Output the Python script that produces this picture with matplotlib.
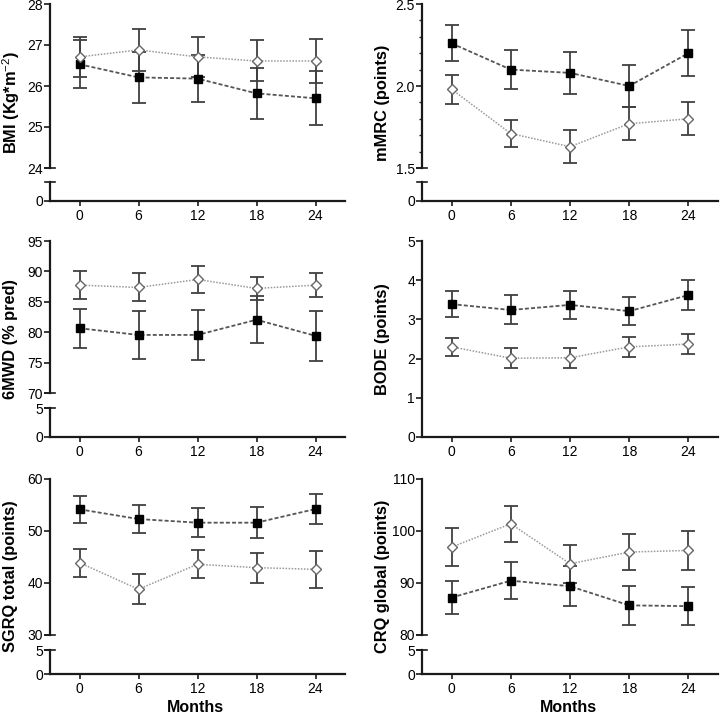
import numpy as np
import matplotlib
matplotlib.use("Agg")
import matplotlib.pyplot as plt
from matplotlib.lines import Line2D
from matplotlib.ticker import MultipleLocator, FormatStrFormatter

plt.rcParams['font.family'] = ['Liberation Sans', 'DejaVu Sans']
plt.rcParams['mathtext.fontset'] = 'custom'
plt.rcParams['mathtext.rm'] = 'Liberation Sans'
plt.rcParams['mathtext.bf'] = 'Liberation Sans:bold'

months = [0, 6, 12, 18, 24]

bmi_sq = [26.53, 26.21, 26.18, 25.82, 25.70]
bmi_sq_err = [0.59, 0.63, 0.57, 0.62, 0.66]
bmi_di = [26.71, 26.88, 26.71, 26.61, 26.61]
bmi_di_err = [0.49, 0.52, 0.49, 0.50, 0.54]

mmrc_sq = [2.26, 2.10, 2.08, 2.00, 2.20]
mmrc_sq_err = [0.11, 0.12, 0.13, 0.13, 0.14]
mmrc_di = [1.98, 1.71, 1.63, 1.77, 1.80]
mmrc_di_err = [0.09, 0.08, 0.10, 0.10, 0.10]

smwd_sq = [80.65, 79.55, 79.55, 82.05, 79.4]
smwd_sq_err = [3.2, 3.9, 4.1, 3.9, 4.1]
smwd_di = [87.74, 87.36, 88.67, 87.2, 87.74]
smwd_di_err = [2.3, 2.3, 2.2, 1.95, 2.0]

bode_sq = [3.39, 3.24, 3.37, 3.21, 3.62]
bode_sq_err = [0.33, 0.37, 0.36, 0.35, 0.38]
bode_di = [2.30, 2.01, 2.02, 2.30, 2.37]
bode_di_err = [0.23, 0.26, 0.25, 0.25, 0.26]

sgrq_sq = [54.17, 52.3, 51.6, 51.6, 54.23]
sgrq_sq_err = [2.6, 2.7, 2.8, 3.0, 2.9]
sgrq_di = [43.9, 38.8, 43.6, 42.95, 42.63]
sgrq_di_err = [2.7, 2.9, 2.7, 2.9, 3.5]

crq_sq = [87.2, 90.45, 89.38, 85.7, 85.55]
crq_sq_err = [3.1, 3.5, 3.8, 3.75, 3.6]
crq_di = [96.9, 101.38, 93.7, 95.95, 96.27]
crq_di_err = [3.6, 3.5, 3.7, 3.5, 3.8]

W, H = 720, 717
fig = plt.figure(figsize=(W / 100, H / 100), dpi=100)

SPINE = '#1a1a1a'
ERR = '#404040'


def px_axes(x0, x1, y0, y1):
    return fig.add_axes([x0 / W, 1 - y1 / H, (x1 - x0) / W, (y1 - y0) / H])


def style(ax):
    for s in ['top', 'right']:
        ax.spines[s].set_visible(False)
    ax.spines['left'].set_linewidth(1.6)
    ax.spines['left'].set_color(SPINE)
    ax.spines['bottom'].set_linewidth(1.6)
    ax.spines['bottom'].set_color(SPINE)
    ax.tick_params(axis='y', direction='out', length=4, width=1.2, pad=1,
                   labelsize=10, color=SPINE)
    ax.tick_params(axis='x', direction='out', length=3.5, width=1.2, pad=2,
                   labelsize=10, color=SPINE)
    ax.set_xlim(-3, 27)


def draw_series(ax, sq, sq_err, di, di_err):
    ax.errorbar(months, sq, yerr=sq_err, fmt='none', ecolor=ERR, elinewidth=1.3,
                capsize=5, capthick=1.3, zorder=2)
    ax.errorbar(months, di, yerr=di_err, fmt='none', ecolor=ERR, elinewidth=1.3,
                capsize=5, capthick=1.3, zorder=2)
    ax.plot(months, sq, color='#555555', lw=1.3, linestyle=(0, (2.2, 1.2)),
            marker='s', ms=6.4, mfc='black', mec='black', zorder=3)
    ax.plot(months, di, color='#999999', lw=1.1, linestyle=(0, (1, 1)),
            marker='D', ms=4.9, mfc='white', mec='#666666', mew=1.0, zorder=4)


def cap(x, y):
    fig.add_artist(Line2D([(x - 5) / W, (x + 5) / W], [1 - y / H, 1 - y / H],
                          transform=fig.transFigure, color=SPINE, lw=1.2))


def panel(x0, x1, up, low, ylim, yticks, lowlim, lowticks, data, label, fmt=None,
          minor=None, months_label=False):
    ax = px_axes(x0, x1, up[0], up[1])
    style(ax)
    ax.spines['bottom'].set_visible(False)
    ax.set_xticks([])
    ax.set_ylim(*ylim)
    ax.set_yticks(yticks)
    if fmt:
        ax.yaxis.set_major_formatter(FormatStrFormatter(fmt))
    if minor:
        ax.yaxis.set_minor_locator(MultipleLocator(minor))
        ax.tick_params(axis='y', which='minor', length=2.2, width=1.0, color=SPINE)
    draw_series(ax, *data)
    bottom = up[1]
    if low is not None:
        axl = px_axes(x0, x1, low[0], low[1])
        style(axl)
        axl.set_ylim(*lowlim)
        axl.set_yticks(lowticks)
        axl.set_xticks(months)
        cap(x0, up[1])
        cap(x0, low[0])
        bottom = low[1]
    else:
        ax.spines['bottom'].set_visible(True)
        ax.set_xticks(months)
    fig.text((x0 - 39) / W, 1 - ((up[0] + bottom) / 2) / H, label, rotation=90,
             ha='center', va='center', fontsize=11.8, fontweight='bold')
    if months_label:
        fig.text(((x0 + x1) / 2 - 2) / W, 1 - 707 / H, 'Months', ha='center',
                 va='center', fontsize=11.5, fontweight='bold')


LX0, LX1 = 50, 345
RX0, RX1 = 422, 718

panel(LX0, LX1, (4, 168), (182, 201), (24, 28), [24, 25, 26, 27, 28], (0, 1), [0],
      (bmi_sq, bmi_sq_err, bmi_di, bmi_di_err), r'BMI (Kg*m$^{-2}$)')
panel(RX0, RX1, (4, 168), (182, 201), (1.5, 2.5), [1.5, 2.0, 2.5], (0, 1), [0],
      (mmrc_sq, mmrc_sq_err, mmrc_di, mmrc_di_err), 'mMRC (points)', fmt='%.1f',
      minor=0.1)
panel(LX0, LX1, (241, 393), (408, 437), (70, 95), [70, 75, 80, 85, 90, 95], (0, 5),
      [0, 5], (smwd_sq, smwd_sq_err, smwd_di, smwd_di_err), '6MWD (% pred)')
panel(RX0, RX1, (241, 437), None, (0, 5), [0, 1, 2, 3, 4, 5], None, None,
      (bode_sq, bode_sq_err, bode_di, bode_di_err), 'BODE (points)')
panel(LX0, LX1, (479, 635), (650, 674), (30, 60), [30, 40, 50, 60], (0, 5), [0, 5],
      (sgrq_sq, sgrq_sq_err, sgrq_di, sgrq_di_err), 'SGRQ total (points)',
      months_label=True)
panel(RX0, RX1, (479, 635), (650, 674), (80, 110), [80, 90, 100, 110], (0, 5), [0, 5],
      (crq_sq, crq_sq_err, crq_di, crq_di_err), 'CRQ global (points)',
      months_label=True)

fig.savefig('out.png', dpi=100)
